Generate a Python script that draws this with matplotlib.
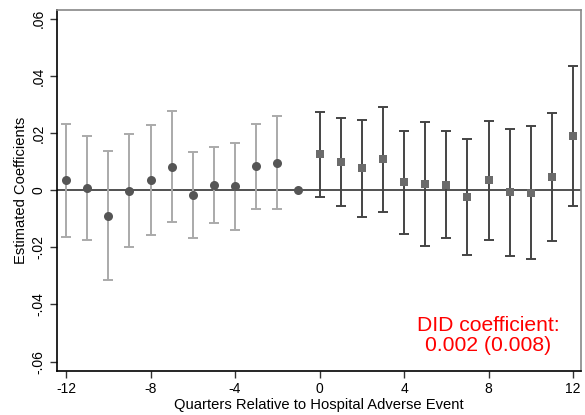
import matplotlib
matplotlib.use("Agg")
import matplotlib.pyplot as plt
import numpy as np

plt.rcParams['font.family'] = ['Liberation Sans', 'DejaVu Sans']

# Pre-event quarters
pre_x = [-12, -11, -10, -9, -8, -7, -6, -5, -4, -3, -2, -1]
pre_coef = [0.0035, 0.0006, -0.0089, -0.0002, 0.0036, 0.0082, -0.0016, 0.0017, 0.0013, 0.0084, 0.0096, 0.0]
pre_hi = [0.0233, 0.0189, 0.0136, 0.0196, 0.0230, 0.0276, 0.0134, 0.0150, 0.0166, 0.0232, 0.0259, 0.0]
pre_lo = [-0.0163, -0.0175, -0.0315, -0.0198, -0.0157, -0.0113, -0.0167, -0.0115, -0.0139, -0.0065, -0.0066, 0.0]

# Post-event quarters
post_x = [0, 1, 2, 3, 4, 5, 6, 7, 8, 9, 10, 11, 12]
post_coef = [0.0126, 0.0100, 0.0077, 0.0110, 0.0027, 0.0021, 0.0019, -0.0023, 0.0035, -0.0007, -0.0009, 0.0045, 0.0189]
post_hi = [0.0275, 0.0254, 0.0247, 0.0292, 0.0208, 0.0238, 0.0208, 0.0180, 0.0241, 0.0216, 0.0224, 0.0269, 0.0435]
post_lo = [-0.0023, -0.0054, -0.0093, -0.0075, -0.0152, -0.0195, -0.0169, -0.0227, -0.0173, -0.0229, -0.0241, -0.0178, -0.0055]

xticks = [-12, -8, -4, 0, 4, 8, 12]
yticks = [-0.06, -0.04, -0.02, 0, 0.02, 0.04, 0.06]
ytick_labels = ['-.06', '-.04', '-.02', '0', '.02', '.04', '.06']

fig = plt.figure(figsize=(5.85, 4.15), dpi=100)
ax = fig.add_axes([0.0974, 0.106, 0.8958, 0.870])

ax.axhline(0, color='#333333', lw=1.2, zorder=1)

# pre-period CIs (skip reference period with no CI)
pre_x_a = np.array(pre_x); pre_c = np.array(pre_coef)
pre_h = np.array(pre_hi); pre_l = np.array(pre_lo)
mask = pre_h != pre_l
ax.errorbar(pre_x_a[mask], pre_c[mask],
            yerr=[pre_c[mask] - pre_l[mask], pre_h[mask] - pre_c[mask]],
            fmt='none', ecolor='#aaaaaa', elinewidth=1.4, capsize=3.5, capthick=1.4, zorder=2)
ax.plot(pre_x, pre_coef, 'o', color='#555555', markersize=6.5, zorder=3, markeredgewidth=0)

post_x_a = np.array(post_x); post_c = np.array(post_coef)
ax.errorbar(post_x_a, post_c,
            yerr=[post_c - np.array(post_lo), np.array(post_hi) - post_c],
            fmt='none', ecolor='#444444', elinewidth=1.4, capsize=3.5, capthick=1.4, zorder=2)
ax.plot(post_x, post_coef, 's', color='#6b6b6b', markersize=6, zorder=3, markeredgewidth=0)

ax.set_xlim(-12.43, 12.38)
ax.set_ylim(-0.0633, 0.0631)
ax.set_xticks(xticks)
ax.set_xticklabels([str(t) for t in xticks], fontsize=10)
ax.set_yticks(yticks)
ax.set_yticklabels(ytick_labels, fontsize=10, rotation=90, va='center')
ax.tick_params(direction='out', length=5, width=1, color='#333333', pad=3)

for s in ['left', 'bottom']:
    ax.spines[s].set_color('black')
    ax.spines[s].set_linewidth(1.2)
for s in ['top', 'right']:
    ax.spines[s].set_color('#888888')
    ax.spines[s].set_linewidth(1.2)

ax.set_xlabel('Quarters Relative to Hospital Adverse Event', fontsize=10.6, labelpad=1)
ax.set_ylabel('Estimated Coefficients', fontsize=10.6, labelpad=3)

ax.text(8.0, -0.0508, 'DID coefficient:\n0.002 (0.008)', color='red', fontsize=15.2,
        ha='center', va='center', linespacing=1.1)

fig.savefig('out.png', dpi=100)
